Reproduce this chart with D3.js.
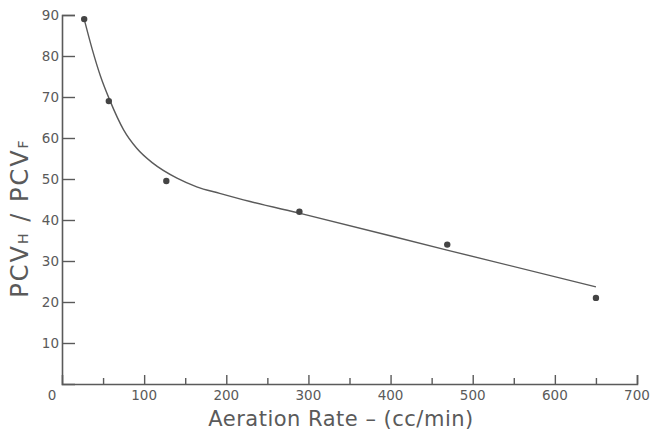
<!DOCTYPE html>
<html><head><meta charset="utf-8">
<script src="https://cdn.jsdelivr.net/npm/d3@7"></script>
<style>body{margin:0;background:#fff}svg{display:block}</style>
</head><body><svg id="c" width="653" height="431"></svg>
<script>
const pointX = [27, 57, 127, 289, 469, 650];
const pointY = [89, 69, 49.5, 42, 34, 21];
const curveX = [27, 37, 47, 58, 75, 91, 111, 140, 164, 192, 229, 290, 470, 650];
const curveY = [89, 81.5, 75, 69.3, 62, 57.5, 53.8, 50.2, 48.1, 46.5, 44.5, 41.6, 32.6, 23.7];
const xMajorTicks = [100, 200, 300, 400, 500, 600, 700];
const xMinorTicks = [50, 150, 250, 350, 450, 550, 650];
const yTicks = [10, 20, 30, 40, 50, 60, 70, 80, 90];

const ink = "#5a5a5a";
const svg = d3.select("#c");
const x = d3.scaleLinear().domain([0, 700]).range([62, 637]);
const y = d3.scaleLinear().domain([0, 90]).range([384, 15]);
const font = "'DejaVu Sans', sans-serif";

// axes
const xAxis = svg.append("g").attr("transform", "translate(0,384)")
  .call(d3.axisTop(x).tickValues(xMajorTicks).tickSize(9).tickFormat(""));
const xMinor = svg.append("g").attr("transform", "translate(0,384)")
  .call(d3.axisTop(x).tickValues(xMinorTicks).tickSize(6).tickFormat(""));
const yAxis = svg.append("g").attr("transform", "translate(62,0)")
  .call(d3.axisRight(y).tickValues(yTicks).tickSize(13).tickFormat(""));
[xAxis, xMinor, yAxis].forEach(g => {
  g.selectAll("path").attr("stroke", ink).attr("stroke-width", 1.6);
  g.selectAll("line").attr("stroke", ink).attr("stroke-width", 1.4);
});
xMinor.select("path").remove();

// tick labels
svg.append("g").selectAll("text").data(xMajorTicks).join("text")
  .attr("x", d => x(d)).attr("y", 400).attr("text-anchor", "middle")
  .attr("font-family", font).attr("font-size", 13.5).attr("fill", ink)
  .text(d => d);
svg.append("text").attr("x", 52).attr("y", 400).attr("text-anchor", "middle")
  .attr("font-family", font).attr("font-size", 13.5).attr("fill", ink).text("0");
svg.append("g").selectAll("text").data(yTicks).join("text")
  .attr("x", 59).attr("y", d => y(d) + 5).attr("text-anchor", "end")
  .attr("font-family", font).attr("font-size", 13.5).attr("fill", ink)
  .text(d => d);

// titles
svg.append("text").attr("x", 341).attr("y", 426).attr("text-anchor", "middle")
  .attr("font-family", font).attr("font-size", 21).attr("letter-spacing", 0.5).attr("fill", ink)
  .text("Aeration Rate – (cc/min)");
const yt = svg.append("text").attr("transform", "translate(28,218) rotate(-90)")
  .attr("text-anchor", "middle").attr("font-family", font).attr("font-size", 24)
  .attr("letter-spacing", 2).attr("fill", ink);
yt.append("tspan").text("PCV");
yt.append("tspan").attr("font-size", 14).text("H");
yt.append("tspan").text("  /  PCV");
yt.append("tspan").attr("font-size", 14).text("F");

// curve
const pts = curveX.map((d, i) => [d, curveY[i]]);
svg.append("path").datum(pts)
  .attr("d", d3.line().x(d => x(d[0])).y(d => y(d[1])).curve(d3.curveMonotoneX))
  .attr("fill", "none").attr("stroke", ink).attr("stroke-width", 1.4);

// points
svg.append("g").selectAll("circle").data(pointX).join("circle")
  .attr("cx", d => x(d)).attr("cy", (d, i) => y(pointY[i])).attr("r", 3.2)
  .attr("fill", "#444");
</script></body></html>
